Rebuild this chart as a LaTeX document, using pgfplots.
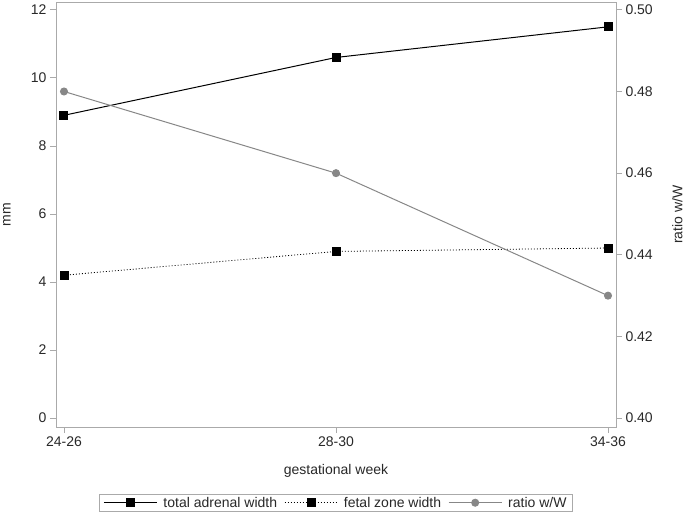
\documentclass[border=0pt]{standalone}
\usepackage{fontspec}
\setmainfont{Liberation Sans}
\usepackage{pgfplots}
\pgfplotsset{compat=1.18}

\definecolor{axgray}{RGB}{170,170,170}
\definecolor{txtcol}{RGB}{40,40,40}
\definecolor{ratiogray}{RGB}{135,135,135}

\pgfplotsset{
  base/.style={
    scale only axis, width=560pt, height=425pt,
    xmin=-0.0294, xmax=2.0294,
    axis line style={axgray, line width=0.8pt},
    every tick/.style={axgray, line width=0.8pt},
    tick align=outside, major tick length=6pt,
    tick label style={font=\fontsize{14}{16}\selectfont, text=txtcol},
    label style={font=\fontsize{14}{16}\selectfont, text=txtcol, inner sep=0pt},
    /pgf/number format/assume math mode=true,
  },
  lineimg/.style={legend image code/.code={
    \draw[mark repeat=2, mark phase=2] plot coordinates {(0pt,0pt) (26.5pt,0pt) (53pt,0pt)};}},
}

\begin{document}
\begin{tikzpicture}
% left axis: widths in mm
\begin{axis}[base, name=ax,
  ymin=-0.26, ymax=12.23,
  ytick={0,2,4,6,8,10,12},
  xtick={0,1,2}, xticklabels={24-26,28-30,34-36},
  xtick pos=bottom, ytick pos=left,
  xlabel={gestational week}, ylabel={mm},
  xlabel style={at={(axis description cs:0.5,-0.087)}, anchor=north},
  ylabel style={at={(axis description cs:-0.095,0.5)}, anchor=north},
  legend columns=3,
  legend style={at={(0.5,0)}, anchor=north, yshift=-67pt,
    draw=axgray, line width=0.8pt, font=\fontsize{14}{16}\selectfont, text=txtcol,
    inner xsep=4pt, inner ysep=0.5pt,
    nodes={inner xsep=2pt},
    /tikz/every odd column/.append style={column sep=4pt},
    /tikz/every even column/.append style={column sep=5pt}},
]
\addplot[lineimg, black, line width=1pt, mark=square*, mark size=4pt, mark options={solid}]
  coordinates {(0,8.9) (1,10.6) (2,11.5)};
\addlegendentry{total adrenal width}
\addplot[lineimg, black, dash pattern=on 1pt off 2pt, line width=0.8pt, mark=square*, mark size=4pt, mark options={solid}]
  coordinates {(0,4.2) (1,4.9) (2,5.0)};
\addlegendentry{fetal zone width}
\addlegendimage{lineimg, ratiogray, line width=1pt, mark=*, mark size=3.5pt}
\addlegendentry{ratio w/W}
\end{axis}
% right axis: ratio
\begin{axis}[base,
  axis y line*=right, axis x line=none,
  ymin=0.397833, ymax=0.501917,
  ytick={0.40,0.42,0.44,0.46,0.48,0.50},
  yticklabel style={/pgf/number format/.cd, fixed, fixed zerofill, precision=2},
  ylabel={ratio w/W},
  ylabel style={at={(axis description cs:1.1,0.5)}, anchor=north},
]
\addplot[ratiogray, line width=1pt, mark=*, mark size=3.5pt]
  coordinates {(0,0.48) (1,0.46) (2,0.43)};
\end{axis}
\pgfresetboundingbox
\useasboundingbox ([shift={(-56pt,-88pt)}]ax.south west) rectangle ([shift={(69pt,2pt)}]ax.north east);
\end{tikzpicture}
\end{document}
